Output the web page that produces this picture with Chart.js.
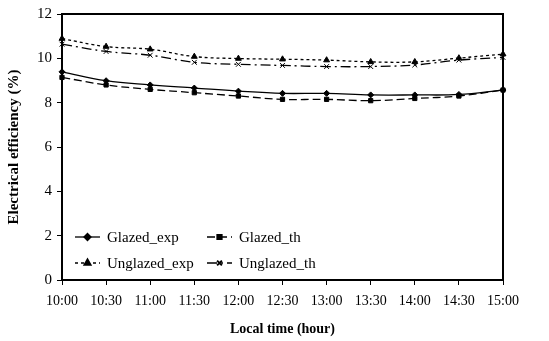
<!DOCTYPE html>
<html lang="en">
<head>
    <meta charset="UTF-8">
    <title>Electrical efficiency</title>
    <script src="https://cdn.jsdelivr.net/npm/chart.js"></script>
    <style>
        html, body { margin: 0; padding: 0; background: #fff; }
        #box { width: 549px; height: 341px; }
    </style>
</head>
<body>
    <div id="box"><canvas id="grafico"></canvas></div>

<script>
    // data
    const horas = ['10:00', '10:30', '11:00', '11:30', '12:00', '12:30', '13:00', '13:30', '14:00', '14:30', '15:00'];
    const glazedExp = [9.39, 8.99, 8.80, 8.66, 8.52, 8.42, 8.42, 8.35, 8.35, 8.37, 8.57];
    const glazedTh = [9.14, 8.80, 8.60, 8.45, 8.30, 8.15, 8.15, 8.09, 8.19, 8.30, 8.57];
    const unglazedExp = [10.89, 10.53, 10.41, 10.08, 9.99, 9.96, 9.92, 9.84, 9.84, 10.01, 10.19];
    const unglazedTh = [10.64, 10.31, 10.14, 9.82, 9.73, 9.68, 9.63, 9.63, 9.70, 9.92, 10.04];

    const fonte = "'Liberation Serif', 'DejaVu Serif', serif";

    function serie(label, dados, estilo, dash, raio) {
        return {
            label: label,
            data: dados,
            borderColor: '#000',
            backgroundColor: '#000',
            borderWidth: 1.3,
            borderDash: dash,
            pointStyle: estilo,
            pointRadius: raio,
            pointBorderWidth: 1,
            pointBackgroundColor: '#000',
            pointBorderColor: '#000',
            tension: 0.4,
            fill: false
        };
    }

    // legend inside the plot + box around the plot area
    const molduraLegenda = {
        id: 'molduraLegenda',
        afterDraw(chart) {
            const ctx = chart.ctx;
            const a = chart.chartArea;
            ctx.save();
            ctx.strokeStyle = '#000';
            ctx.lineWidth = 2;
            ctx.strokeRect(a.left, a.top, a.right - a.left, a.bottom - a.top);

            const itens = [
                { ds: 0, x: 75, y: 237 },
                { ds: 1, x: 207, y: 237 },
                { ds: 2, x: 75, y: 263 },
                { ds: 3, x: 207, y: 263 }
            ];
            ctx.font = "15px " + fonte;
            ctx.textBaseline = 'middle';
            ctx.fillStyle = '#000';
            itens.forEach(it => {
                const d = chart.data.datasets[it.ds];
                ctx.save();
                ctx.lineWidth = d.borderWidth;
                ctx.setLineDash(d.borderDash || []);
                ctx.beginPath();
                ctx.moveTo(it.x, it.y);
                ctx.lineTo(it.x + 25, it.y);
                ctx.stroke();
                ctx.restore();
                Chart.helpers.drawPoint(ctx, {
                    pointStyle: d.pointStyle,
                    radius: d.pointRadius,
                    borderWidth: 1
                }, it.x + 12.5, it.y);
                ctx.fillText(d.label, it.x + 32, it.y + 1);
            });
            ctx.restore();
        }
    };

    new Chart(document.getElementById('grafico'), {
        type: 'line',
        data: {
            labels: horas,
            datasets: [
                serie('Glazed_exp', glazedExp, 'rectRot', [], 3),
                serie('Glazed_th', glazedTh, 'rect', [8, 4], 3),
                serie('Unglazed_exp', unglazedExp, 'triangle', [3, 3], 3.4),
                serie('Unglazed_th', unglazedTh, 'crossRot', [10, 4, 2, 4], 3.4)
            ]
        },
        options: {
            responsive: true,
            maintainAspectRatio: false,
            animation: false,
            devicePixelRatio: 1,
            layout: { padding: { top: 13, right: 46, left: 0, bottom: 0 } },
            plugins: {
                legend: { display: false },
                tooltip: { enabled: false }
            },
            scales: {
                x: {
                    offset: false,
                    afterFit(s) { s.height = 61; },
                    grid: {
                        display: true,
                        drawOnChartArea: false,
                        drawTicks: true,
                        tickLength: 5,
                        color: '#000',
                        lineWidth: 1
                    },
                    border: { display: true, color: '#000', width: 2 },
                    ticks: {
                        color: '#000',
                        font: { family: fonte, size: 14 },
                        maxRotation: 0,
                        autoSkip: false,
                        padding: 8
                    },
                    title: {
                        display: true,
                        text: 'Local time (hour)',
                        color: '#000',
                        font: { family: fonte, size: 14, weight: 'bold' },
                        padding: { top: 8, bottom: 3 }
                    }
                },
                y: {
                    min: 0,
                    max: 12,
                    afterFit(s) { s.width = 62; },
                    grid: {
                        display: true,
                        drawOnChartArea: false,
                        drawTicks: true,
                        tickLength: 5,
                        color: '#000',
                        lineWidth: 1
                    },
                    border: { display: true, color: '#000', width: 2 },
                    ticks: {
                        stepSize: 2,
                        color: '#000',
                        font: { family: fonte, size: 15 },
                        padding: 5
                    },
                    title: {
                        display: true,
                        text: 'Electrical efficiency (%)',
                        color: '#000',
                        font: { family: fonte, size: 15, weight: 'bold' },
                        padding: { top: 5, bottom: 4 }
                    }
                }
            }
        },
        plugins: [molduraLegenda]
    });
</script>
</body>
</html>
